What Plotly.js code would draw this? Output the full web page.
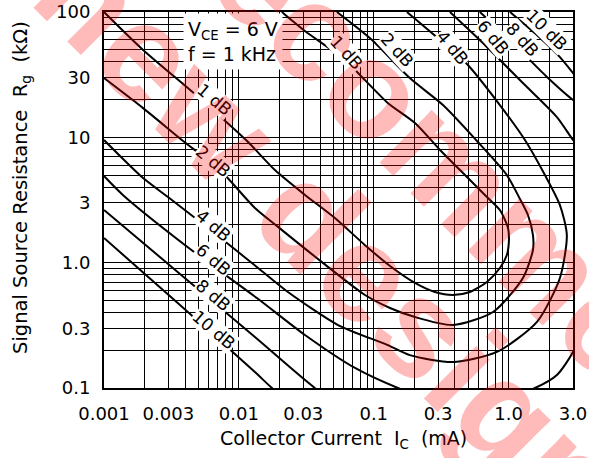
<!DOCTYPE html>
<html>
<head>
<meta charset="utf-8">
<script src="https://cdn.plot.ly/plotly-3.0.1.min.js"></script>
<style>html,body{margin:0;padding:0;background:#fff;}#chart{width:589px;height:458px;}</style>
</head>
<body>
<div id="chart"></div>
<script>
// ---- data (Ic in mA, Rg in kOhm) ----
const nf1Ic = [0.001, 0.00195, 0.00489, 0.0115, 0.0185, 0.0309, 0.0515, 0.0861, 0.132, 0.202, 0.284, 0.386, 0.516, 0.690, 0.861, 0.970, 1.005, 0.989, 0.861, 0.690, 0.436, 0.310, 0.202, 0.127, 0.0861, 0.0612, 0.0309, 0.0208];
const nf1Rg = [100, 49.8, 21.4, 9.35, 5.48, 3.47, 2.27, 1.38, 0.94, 0.689, 0.583, 0.552, 0.583, 0.702, 0.906, 1.15, 1.52, 1.89, 2.63, 3.34, 5.48, 7.93, 13.0, 18.8, 28.6, 41.4, 70.5, 100];

const nf2Ic = [0.001, 0.00195, 0.00386, 0.00724, 0.01315, 0.0195, 0.0413, 0.0861, 0.132, 0.202, 0.386, 0.766, 1.276, 1.514, 1.514, 1.390, 1.213, 0.970, 0.582, 0.326, 0.185, 0.0971, 0.0533];
const nf2Rg = [29.7, 17.1, 9.35, 5.48, 2.73, 1.93, 1.01, 0.552, 0.435, 0.368, 0.318, 0.404, 0.755, 1.262, 1.663, 2.40, 3.22, 5.00, 9.35, 18.1, 29.7, 59.8, 100];

const nf4Ic = [0.001, 0.00195, 0.00298, 0.00643, 0.0136, 0.0231, 0.0543, 0.127, 0.185, 0.386, 0.818, 1.622, 2.40, 2.70, 2.40, 1.858, 1.321, 0.861, 0.491, 0.310, 0.176];
const nf4Rg = [9.52, 4.73, 3.34, 1.758, 0.923, 0.583, 0.318, 0.220, 0.183, 0.161, 0.194, 0.337, 0.755, 1.663, 2.88, 5.00, 9.52, 18.1, 38.5, 59.8, 100];

const nf6Ic = [0.001, 0.00138, 0.00435, 0.0136, 0.0309, 0.0726, 0.151, 0.310, 0.726, 1.567, 2.28, 3.0, 3.68, 3.68, 3.0, 2.28, 1.276, 0.667, 0.367];
const nf6Rg = [4.91, 3.47, 1.285, 0.522, 0.265, 0.1445, 0.1, 0.0759, 0.0759, 0.1, 0.127, 0.194, 0.349, 7.23, 9.52, 14.5, 27.1, 54.6, 100];

const nf8Ic = [0.001, 0.00366, 0.01315, 0.0366, 0.0612, null, 4.01, 3.0, 1.923, 1.057, 0.612];
const nf8Rg = [2.63, 0.813, 0.255, 0.1, 0.0692, null, 16.5, 19.9, 30.3, 57.6, 100];

const nf10Ic = [0.001, 0.00366, 0.01315, 0.01758, 0.0284, null, 4.01, 3.0, 2.40, 1.648, 1.023];
const nf10Rg = [1.574, 0.459, 0.134, 0.1, 0.0643, null, 23.0, 32.6, 43.7, 64.4, 100];

const labelText = ['1 dB', '2 dB', '4 dB', '6 dB', '8 dB', '10 dB', '1 dB', '2 dB', '4 dB', '6 dB', '8 dB', '10 dB'];
const labelIc = [0.00665, 0.00643, 0.00653, 0.00653, 0.00643, 0.00653, 0.0632, 0.149, 0.386, 0.766, 1.276, 1.923];
const labelRg = [19.9, 6.47, 1.96, 1.05, 0.552, 0.290, 47.1, 49.8, 51.6, 63.2, 59.8, 71.8];

const xTickValues = [0.001, 0.003, 0.01, 0.03, 0.1, 0.3, 1, 3];
const xTickLabels = ['0.001', '0.003', '0.01', '0.03', '0.1', '0.3', '1.0', '3.0'];
const yTickValues = [0.1, 0.3, 1, 3, 10, 30, 100];
const yTickLabels = ['0.1', '0.3', '1.0', '3', '10', '30', '100'];

const watermarkLines = ['Not recommended', 'for new design'];

// ---- build log grid (1..9 per decade) ----
function logGrid(lo, hi, labVals, labTxt) {
  const vals = [], txt = [];
  for (let d = Math.floor(Math.log10(lo)); d <= Math.ceil(Math.log10(hi)); d++) {
    for (let m = 1; m <= 9; m++) {
      const v = m * Math.pow(10, d);
      if (v < lo * 0.999 || v > hi * 1.001) continue;
      vals.push(v);
      let t = '';
      labVals.forEach((lv, i) => { if (Math.abs(lv - v) / lv < 1e-6) t = labTxt[i]; });
      txt.push(t);
    }
  }
  return {vals, txt};
}
const xg = logGrid(0.001, 3, xTickValues, xTickLabels);
const yg = logGrid(0.1, 100, yTickValues, yTickLabels);

const FONT = 'DejaVu Sans, Arial, sans-serif';
const lineStyle = {color: '#000', width: 2, shape: 'spline', smoothing: 0.7};
const mk = (x, y) => ({x, y, type: 'scatter', mode: 'lines', line: lineStyle, connectgaps: false, hoverinfo: 'skip', showlegend: false});
const traces = [mk(nf1Ic, nf1Rg), mk(nf2Ic, nf2Rg), mk(nf4Ic, nf4Rg), mk(nf6Ic, nf6Rg), mk(nf8Ic, nf8Rg), mk(nf10Ic, nf10Rg)];

const labelAngles = [40, 40, 40, 40, 40, 40, 48, 48, 50, 50, 48, 45];
const annotations = labelText.map((t, i) => ({
  x: Math.log10(labelIc[i]), y: Math.log10(labelRg[i]), xref: 'x', yref: 'y',
  text: t, showarrow: false, textangle: labelAngles[i],
  font: {family: FONT, size: 17, color: '#000'}, bgcolor: '#fff', borderpad: 0
}));
annotations.push({
  xref: 'paper', yref: 'paper', x: 0.274, y: 0.921, xanchor: 'center', yanchor: 'middle',
  text: 'V<sub>CE</sub> = 6 V<br>f = 1 kHz', align: 'left', showarrow: false,
  font: {family: FONT, size: 19, color: '#000'}, bgcolor: '#fff', borderpad: 4
});
annotations.push({
  xref: 'paper', yref: 'paper', x: 0.5096, y: -0.138, xanchor: 'center', yanchor: 'middle',
  text: 'Collector Current\u00a0\u00a0I<sub>C</sub>\u00a0\u00a0(mA)', showarrow: false,
  font: {family: FONT, size: 19, color: '#000'}
});
annotations.push({
  xref: 'paper', yref: 'paper', x: -0.1748, y: 0.532, xanchor: 'center', yanchor: 'middle',
  text: 'Signal Source Resistance\u00a0\u00a0R<sub>g</sub>\u00a0\u00a0(k\u03A9)', showarrow: false, textangle: -90,
  font: {family: FONT, size: 19.5, color: '#000'}
});
// watermark (two separate lines, rotated 45 deg)
const wmPos = [[0.7164, 0.6197], [0.3134, 0.617]];
watermarkLines.forEach((t, i) => annotations.push({
  xref: 'paper', yref: 'paper', x: wmPos[i][0], y: wmPos[i][1], xanchor: 'center', yanchor: 'middle',
  text: t, showarrow: false, textangle: 45,
  font: {family: 'Liberation Sans, Arial, sans-serif', size: 140, color: 'rgba(255,0,0,0.27)', weight: 'bold'}
}));

const axisCommon = {
  type: 'log', showgrid: true, gridcolor: '#000', gridwidth: 1, zeroline: false,
  showline: true, linecolor: '#000', linewidth: 2, mirror: true, ticks: '',
  tickmode: 'array', tickangle: 0, tickfont: {family: FONT, size: 18, color: '#000'}, ticklabelstandoff: 8
};
const layout = {
  width: 589, height: 458, margin: {l: 104, r: 16, t: 12, b: 70},
  paper_bgcolor: '#fff', plot_bgcolor: '#fff', showlegend: false,
  xaxis: Object.assign({}, axisCommon, {range: [-3, Math.log10(3)], tickvals: xg.vals, ticktext: xg.txt}),
  yaxis: Object.assign({}, axisCommon, {range: [-1, 2], tickvals: yg.vals, ticktext: yg.txt}),
  annotations
};
Plotly.newPlot('chart', traces, layout, {staticPlot: true, displayModeBar: false});
</script>
</body>
</html>
